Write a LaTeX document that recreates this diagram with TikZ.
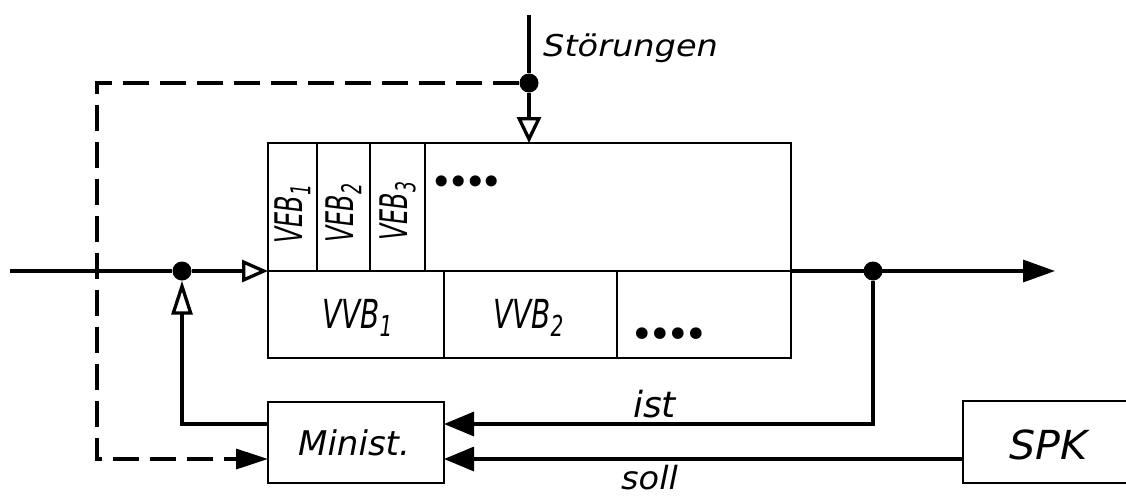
\documentclass[tikz,border=0pt]{standalone}
\usepackage{fontspec}
\setmainfont{DejaVu Sans}
\usepackage{graphicx}
\usetikzlibrary{arrows.meta}
\newcommand\lab[3]{\fontsize{#1}{#1}\selectfont\scalebox{#2}[1]{#3}}
\newcommand\subx[1]{\raisebox{-0.22em}{\scalebox{0.72}{#1}}}
\newcommand\dotrow[2]{\fontsize{#1}{#1}\selectfont •\kern#2•\kern#2•\kern#2•}
\begin{document}
\begin{tikzpicture}[x=1pt,y=-1pt,
  box/.style={draw, line width=2pt, inner sep=0pt, outer sep=0pt, anchor=north west},
  sig/.style={line width=3.3pt},
  txt/.style={inner sep=0pt, anchor=base west, font=\itshape},
  jdot/.style={circle, fill, inner sep=0pt, minimum size=19pt},
  dashline/.style={sig, dash pattern=on 26pt off 11pt}]
\useasboundingbox (0,0) rectangle (1126,496);
\clip (0,0) rectangle (1126,496);
% plant block
\node[box, minimum width=523pt, minimum height=215pt] (plant) at (268,143) {};
\node[box, minimum width=49pt, minimum height=128pt] (veb1c) at (268,143) {};
\node[box, minimum width=53pt, minimum height=128pt] (veb2c) at (317,143) {};
\node[box, minimum width=55pt, minimum height=128pt] (veb3c) at (370,143) {};
\node[box, minimum width=366pt, minimum height=128pt] (vebnc) at (425,143) {};
\node[box, minimum width=176pt, minimum height=87pt] (vvb1c) at (268,271) {};
\node[box, minimum width=173pt, minimum height=87pt] (vvb2c) at (444,271) {};
\node[box, minimum width=174pt, minimum height=87pt] (vvbnc) at (617,271) {};
% other blocks
\node[box, minimum width=176pt, minimum height=81pt] (min) at (268,402) {};
\node[box, minimum width=180pt, minimum height=82pt] (spk) at (963,401) {};
% labels
\node[txt] (stoer) at (543,56) {\lab{30}{1.12}{Störungen}};
\node[txt, rotate=90] (veb1) at (302,244) {\lab{38}{0.63}{VEB\subx{1}}};
\node[txt, rotate=90] (veb2) at (353,243) {\lab{38}{0.63}{VEB\subx{2}}};
\node[txt, rotate=90] (veb3) at (407,241) {\lab{38}{0.63}{VEB\subx{3}}};
\node[inner sep=0pt] (dotsu) at (467,186) {\dotrow{38}{-5.7pt}};
\node[txt] (vvb1) at (322,328) {\lab{40}{0.7}{VVB\subx{1}}};
\node[txt] (vvb2) at (493,328) {\lab{40}{0.7}{VVB\subx{2}}};
\node[inner sep=0pt] (dotsl) at (669,338) {\dotrow{40}{-5.6pt}};
\node[txt] (minl) at (298,455) {\lab{34}{1}{Minist.}};
\node[txt] (spkl) at (1009,459) {\lab{40}{1.03}{SPK}};
\node[txt] (istl) at (633,417) {\lab{36}{1}{ist}};
\node[txt] (solll) at (621,489) {\lab{32}{1.05}{soll}};
% junctions and free ends
\node[jdot] (j1) at (182,271) {};
\node[jdot] (j2) at (873,271) {};
\node[jdot] (j3) at (529,83) {};
\coordinate (in) at (10,271);
\coordinate (out) at (1055,271);
\coordinate (dist) at (529,15);
\coordinate (istc) at (873,424);
\coordinate (dc) at (97,459);
% connectors
\draw[sig] (in) -- (j1);
\draw[sig, -{Triangle[open, length=26pt, width=22pt]}] (j1) -- (j1 -| plant.west);
\draw[sig, -{Triangle[length=32pt, width=22pt]}] (plant.east |- j1) -- (out);
\draw[sig] (dist) -- (j3);
\draw[sig, -{Triangle[open, length=26pt, width=24pt]}] (j3) -- (j3 |- plant.north);
\draw[sig, -{Triangle[length=30pt, width=24pt]}] (j2) |- (min.east |- istc);
\draw[sig, -{Triangle[open, length=34pt, width=21pt]}] (min.west |- istc) -| (j1);
\draw[sig, -{Triangle[length=30pt, width=24pt]}] (spk.west |- dc) -- (min.east |- dc);
\draw[dashline, -{Triangle[length=32pt, width=20pt]}] (j3) -| (dc) -- (min.west |- dc);
\end{tikzpicture}
\end{document}
